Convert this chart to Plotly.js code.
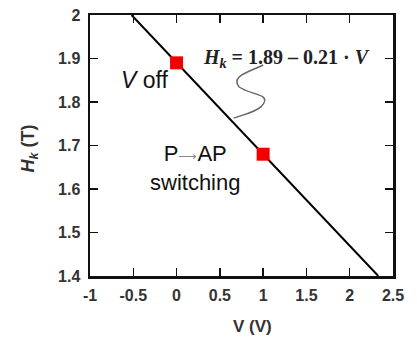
<!DOCTYPE html>
<html><head><meta charset="utf-8">
<script src="https://cdn.plot.ly/plotly-3.0.1.min.js"></script>
<style>html,body{margin:0;padding:0;background:#fff}#c{width:417px;height:344px}</style>
</head><body><div id="c"></div>
<script>
// fit line endpoints (Hk = 1.89 - 0.21 V)
const lineV = [-0.52, 2.33];
const lineH = [2.0, 1.40];
// measured points
const pointV = [0, 1];
const pointH = [1.89, 1.68];
const xTicks = [-1, -0.5, 0, 0.5, 1, 1.5, 2, 2.5];
const xTickText = ['-1', '-0.5', '0', '0.5', '1', '1.5', '2', '2.5'];
const yTicks = [1.4, 1.5, 1.6, 1.7, 1.8, 1.9, 2];
const yTickText = ['1.4', '1.5', '1.6', '1.7', '1.8', '1.9', '2'];

const sans = 'Liberation Sans, Arial, sans-serif';
const tickFont = {family: sans, size: 16, color: '#333', weight: 'bold'};
const data = [
  {x: lineV, y: lineH, mode: 'lines', line: {color: '#000', width: 2}, hoverinfo: 'skip', showlegend: false},
  {x: pointV, y: pointH, mode: 'markers', marker: {symbol: 'square', size: 13, color: '#f00000'}, showlegend: false}
];
const axBase = {showgrid: false, zeroline: false, showline: true, linecolor: '#111', linewidth: 2.5,
  mirror: 'ticks', ticks: 'inside', ticklen: 8, tickwidth: 1.5, tickcolor: '#111', tickfont: tickFont};
const layout = {
  width: 417, height: 344,
  margin: {l: 90, r: 24, t: 15, b: 68},
  paper_bgcolor: '#fff', plot_bgcolor: '#fff',
  xaxis: Object.assign({}, axBase, {range: [-1, 2.5], tickvals: xTicks, ticktext: xTickText, ticklabelstandoff: 3}),
  yaxis: Object.assign({}, axBase, {range: [1.4, 2], tickvals: yTicks, ticktext: yTickText, ticklabelstandoff: 4}),
  shapes: [
    {type: 'path', xref: 'x', yref: 'y',
     path: 'M 1.0 1.885 C 0.85 1.87, 0.62 1.86, 0.72 1.835 C 0.85 1.815, 1.12 1.82, 0.98 1.79 C 0.9 1.775, 0.75 1.77, 0.66 1.763',
     line: {color: '#666', width: 1.5}}
  ],
  annotations: [
    {xref: 'paper', yref: 'paper', x: (252 - 90) / 303, y: -0.15, text: '<b>V (V)</b>', showarrow: false,
     font: {family: sans, size: 17, color: '#333'}, yanchor: 'top', xanchor: 'center'},
    {xref: 'paper', yref: 'paper', x: -0.2, y: 0.49, text: '<b><i>H</i><sub><i>k</i></sub> (T)</b>', showarrow: false, textangle: -90,
     font: {family: sans, size: 18, color: '#333'}, xanchor: 'center', yanchor: 'middle'},
    {xref: 'x', yref: 'y', x: 0.28, y: 1.90, text: '<b><i>H</i><sub><i>k</i></sub> = 1.89 – 0.21 · <i>V</i></b>', showarrow: false,
     font: {family: 'Liberation Serif, Times New Roman, serif', size: 20, color: '#222'}, xanchor: 'left', yanchor: 'middle'},
    {xref: 'x', yref: 'y', x: -0.66, y: 1.85, text: '<i>V</i> off', showarrow: false,
     font: {family: sans, size: 23, color: '#111'}, xanchor: 'left', yanchor: 'middle'},
    {xref: 'x', yref: 'y', x: 0.21, y: 1.6475, text: 'P<span style="font-size:13px;color:#888">⟶</span>AP<br>switching', showarrow: false,
     font: {family: sans, size: 22, color: '#111'}, xanchor: 'center', yanchor: 'middle', align: 'center'}
  ]
};
Plotly.newPlot('c', data, layout, {displayModeBar: false, staticPlot: true});
</script></body></html>
